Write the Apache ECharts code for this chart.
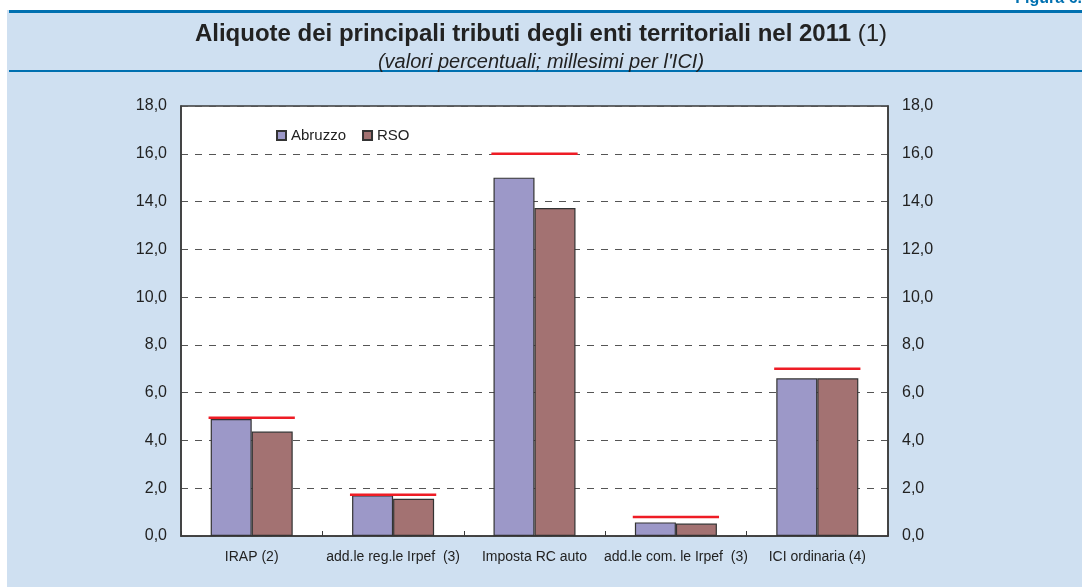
<!DOCTYPE html>
<html>
<head>
<meta charset="utf-8">
<script src="https://cdn.jsdelivr.net/npm/echarts@6/dist/echarts.min.js"></script>
<style>
  html, body { margin: 0; padding: 0; background: #ffffff; }
  #chart { width: 1082px; height: 587px; }
</style>
</head>
<body>
<div id="chart"></div>
<script>
// dati
const categories = ['IRAP (2)', 'add.le reg.le Irpef  (3)', 'Imposta RC auto', 'add.le com. le Irpef  (3)', 'ICI ordinaria (4)'];
const abruzzo = [4.9, 1.7, 15.0, 0.57, 6.6];
const rso = [4.37, 1.56, 13.73, 0.52, 6.6];
const aliquotaMax = [4.95, 1.73, 16.0, 0.8, 7.0];
const yTicks = [0, 2, 4, 6, 8, 10, 12, 14, 16, 18];

(function () {
    const myChart = echarts.init(document.getElementById('chart'));
    const font = 'Liberation Sans, Arial, sans-serif';
    const fmt = function (v) { return v.toFixed(1).replace('.', ','); };

    const yAxisBase = {
        type: 'value',
        min: yTicks[0],
        max: yTicks[yTicks.length - 1],
        interval: 2,
        axisLine: { show: true, lineStyle: { color: '#3a3a3a', width: 1.5 } },
        axisTick: { show: false },
        axisLabel: { color: '#222', fontSize: 16, fontFamily: font, formatter: fmt, margin: 14 }
    };

    const option = {
        animation: false,
        backgroundColor: '#ffffff',
        textStyle: { fontFamily: font },
        graphic: [
            { type: 'rect', z: -10, shape: { x: 7, y: 10, width: 1075, height: 577 }, style: { fill: '#cfe0f1' } },
            { type: 'rect', z: -9, shape: { x: 9, y: 10, width: 1073, height: 3 }, style: { fill: '#0070b0' } },
            { type: 'rect', z: -9, shape: { x: 9, y: 70, width: 1073, height: 2 }, style: { fill: '#0070b0' } },
            { type: 'rect', z: -9, shape: { x: 181, y: 106, width: 707, height: 430 }, style: { fill: '#ffffff', stroke: '#3a3a3a', lineWidth: 1.5 } },
            { type: 'text', right: 0, top: -9, style: { text: 'Figura 6.', fill: '#0070b0', font: 'bold 16px ' + font } }
        ],
        title: {
            left: 'center',
            top: 17,
            itemGap: 6,
            text: '{b|Aliquote dei principali tributi degli enti territoriali nel 2011}{n| (1)}',
            textStyle: {
                rich: {
                    b: { fontSize: 24, fontWeight: 'bold', color: '#222', fontFamily: font },
                    n: { fontSize: 24, fontWeight: 'normal', color: '#222', fontFamily: font }
                }
            },
            subtext: "(valori percentuali; millesimi per l'ICI)",
            subtextStyle: { fontSize: 20, fontStyle: 'italic', color: '#222', fontFamily: font }
        },
        legend: {
            left: 271,
            top: 123,
            itemWidth: 9,
            itemHeight: 9,
            itemGap: 16,
            icon: 'rect',
            textStyle: { fontSize: 15, color: '#222' },
            data: ['Abruzzo', 'RSO']
        },
        grid: { left: 181, right: 194, top: 106, bottom: 51 },
        xAxis: {
            type: 'category',
            data: categories,
            axisLine: { show: true, lineStyle: { color: '#3a3a3a', width: 1.5 } },
            axisTick: { show: true, inside: true, length: 5, lineStyle: { color: '#3a3a3a' } },
            axisLabel: { color: '#222', fontSize: 14, margin: 14, interval: 0 }
        },
        yAxis: [
            Object.assign({}, yAxisBase, {
                position: 'left',
                splitLine: { show: true, lineStyle: { color: '#555', type: [7, 7], width: 1 } }
            }),
            Object.assign({}, yAxisBase, {
                position: 'right',
                splitLine: { show: false }
            })
        ],
        series: [
            {
                name: 'Abruzzo',
                type: 'bar',
                data: abruzzo,
                barGap: '0%',
                barCategoryGap: '42%',
                itemStyle: { color: '#9c98c8', borderColor: '#333', borderWidth: 1.2 }
            },
            {
                name: 'RSO',
                type: 'bar',
                data: rso,
                itemStyle: { color: '#a37272', borderColor: '#333', borderWidth: 1.2 }
            },
            {
                name: 'aliquota massima',
                type: 'custom',
                z: 5,
                data: aliquotaMax.map(function (v, i) { return [i, v]; }),
                renderItem: function (params, api) {
                    const p = api.coord([api.value(0), api.value(1)]);
                    const band = api.size([1, 0])[0];
                    const half = band * 0.61 / 2;
                    return {
                        type: 'line',
                        shape: { x1: p[0] - half, y1: p[1], x2: p[0] + half, y2: p[1] },
                        style: { stroke: '#ee1c25', lineWidth: 2.5 }
                    };
                }
            }
        ]
    };

    myChart.setOption(option);
    window.addEventListener('resize', function () {
        myChart.resize();
    });
})();
</script>
</body>
</html>
